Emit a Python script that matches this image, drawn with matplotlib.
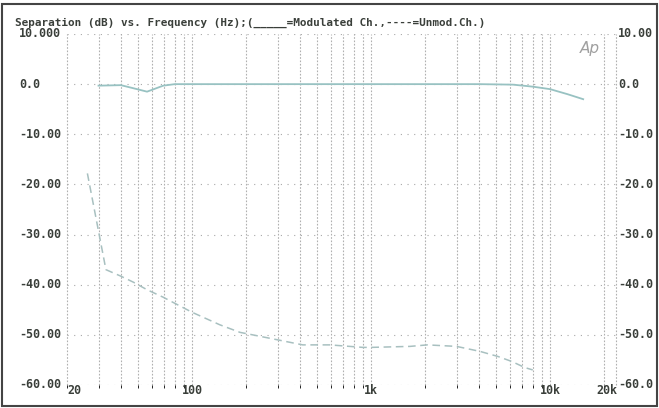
import matplotlib
matplotlib.use("Agg")
import matplotlib.pyplot as plt
from matplotlib.patches import Rectangle

# Modulated channel (solid)
freq_mod = [30, 40, 48, 56, 69, 80, 100, 200, 500, 1000, 2000, 4000, 6200, 8000, 10000, 12500, 15300]
sep_mod = [-0.3, -0.2, -0.9, -1.5, -0.3, 0.0, 0.0, 0.0, 0.0, 0.0, 0.0, 0.0, -0.1, -0.5, -1.0, -2.0, -3.0]

# Unmodulated channel (dashed)
freq_unmod = [26, 33, 40, 47, 56, 69, 78, 100, 143, 185, 218, 301, 415, 588, 900, 1000,
              1650, 2060, 3000, 4060, 5100, 6100, 7200, 8000]
sep_unmod = [-17.8, -37.0, -38.3, -39.5, -41.0, -42.5, -43.5, -45.5, -48.0, -49.5, -50.0, -51.0,
             -52.0, -52.0, -52.5, -52.5, -52.3, -52.0, -52.3, -53.3, -54.3, -55.3, -56.5, -57.0]

yticks = [10, 0, -10, -20, -30, -40, -50, -60]
left_labels = ["10.000", "0.0", "-10.00", "-20.00", "-30.00", "-40.00", "-50.00", "-60.00"]
right_labels = ["10.00", "0.0", "-10.0", "-20.0", "-30.0", "-40.0", "-50.0", "-60.0"]
xtick_pos = [100, 1000, 10000]
xtick_labels = ["100", "1k", "10k"]

W, H = 659, 408
fig = plt.figure(figsize=(W / 100, H / 100), dpi=100)
ax = fig.add_axes([67 / W, 1 - 385 / H, (616 - 67) / W, (385 - 34) / H])

xmax = 20 * 10 ** ((616 - 67) / 179)
ax.set_xscale("log")
ax.set_xlim(20, xmax)
ax.set_ylim(-60, 10)

# grid
grid_freqs = [m * 10 ** d for d in range(1, 5) for m in range(1, 10)]
grid_freqs = [f for f in grid_freqs if 20 <= f <= 20000] + [xmax]
for f in grid_freqs:
    ax.axvline(f, color="#b0b0b0", lw=0.8, ls=(0, (1.5, 1.5)), zorder=1, clip_on=False)
for y in yticks:
    ax.axhline(y, color="#a8a8a8", lw=0.8, ls=(0, (1, 5)), zorder=1)

ax.plot(freq_mod, sep_mod, color="#98c2c2", lw=1.3, zorder=3)
ax.plot(freq_unmod, sep_unmod, color="#a8c0c0", lw=1.1, ls=(0, (5, 3)), zorder=3)

for s in ax.spines.values():
    s.set_visible(False)
ax.set_xticks([])
ax.set_yticks([])

font = dict(family="DejaVu Sans Mono", weight="bold", color="#3a3f3a")

for y, lab in zip(yticks, left_labels):
    fig.text(19 / W, ax.transData.transform((20, y))[1] / H, lab, ha="left", va="center",
             fontsize=8.4, **font)
for y, lab in zip(yticks, right_labels):
    fig.text(618 / W, ax.transData.transform((20, y))[1] / H, lab, ha="left", va="center",
             fontsize=8.4, **font)

fig.text(67 / W, 1 - 391 / H, "20", ha="left", va="center", fontsize=8.4, **font)
for f, lab in zip(xtick_pos, xtick_labels):
    x = ax.transData.transform((f, 0))[0] / W
    fig.text(x, 1 - 391 / H, lab, ha="center", va="center", fontsize=8.4, **font)
fig.text(617 / W, 1 - 391 / H, "20k", ha="right", va="center", fontsize=8.4, **font)

fig.text(15 / W, 1 - 23 / H,
         "Separation (dB) vs. Frequency (Hz);(_____=Modulated Ch.,----=Unmod.Ch.)",
         ha="left", va="center", fontsize=7.9, **font)

fig.text(580 / W, 1 - 48 / H, "Ap", ha="left", va="center", fontsize=11, style="italic",
         color="#a0a0a0", family="DejaVu Sans")

fig.patches.append(Rectangle((2 / W, 2 / H), (W - 4) / W, (H - 6) / H, transform=fig.transFigure,
                             fill=False, edgecolor="#444444", lw=1.5))

fig.savefig("out.png", dpi=100)
